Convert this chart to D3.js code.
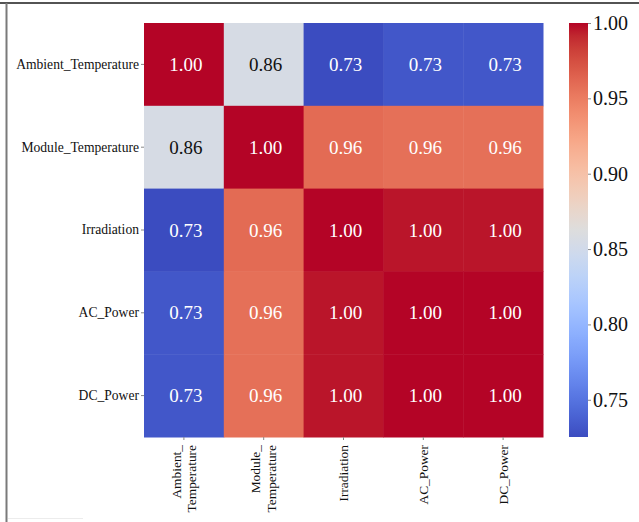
<!DOCTYPE html>
<html>
<head>
<meta charset="utf-8">
<script src="https://cdn.jsdelivr.net/npm/d3@7"></script>
<style>
  html, body { margin: 0; padding: 0; background: #fff; }
  svg { display: block; }
  text { font-family: "Liberation Serif", "Times New Roman", serif; }
</style>
</head>
<body>
<svg id="chart" width="639" height="522"></svg>
<script>
// Variables of the correlation matrix (row order = column order)
const variables = ["Ambient_Temperature", "Module_Temperature", "Irradiation", "AC_Power", "DC_Power"];
// Bottom axis labels, wrapped after the underscore
const xLabelLines = [["Ambient_", "Temperature"], ["Module_", "Temperature"], ["Irradiation"], ["AC_Power"], ["DC_Power"]];

// Pearson correlation coefficients, one row per variable
const rowAmbient = [1.000, 0.8555, 0.7253, 0.732, 0.732];
const rowModule  = [0.8555, 1.000, 0.960, 0.957, 0.957];
const rowIrr     = [0.7253, 0.960, 1.000, 0.996, 0.996];
const rowAC      = [0.732, 0.957, 0.996, 1.000, 1.000];
const rowDC      = [0.732, 0.957, 0.996, 1.000, 1.000];
const matrix = [rowAmbient, rowModule, rowIrr, rowAC, rowDC];

// Colour bar extent and ticks
const colorMin = 0.7253, colorMax = 1.0;
const colorTicks = [0.75, 0.80, 0.85, 0.90, 0.95, 1.00];

// Diverging "coolwarm" colour map (Moreland), 33 control points
const coolwarmStops = [
  [59,76,192],[68,90,204],[77,104,215],[87,117,225],[98,130,234],[108,142,241],
  [119,154,247],[130,165,251],[141,176,254],[152,185,255],[163,194,255],[174,201,253],
  [184,208,249],[194,213,244],[204,217,238],[213,219,230],[221,221,221],[229,216,209],
  [236,211,197],[241,204,184],[245,196,172],[247,187,160],[247,177,148],[247,166,135],
  [244,154,123],[241,141,111],[236,127,99],[229,112,88],[222,96,77],[213,80,66],
  [203,62,56],[192,40,47],[180,4,38]
].map(c => d3.rgb(c[0], c[1], c[2]).formatHex());
const coolwarm = d3.piecewise(d3.interpolateRgb, coolwarmStops);
const color = d3.scaleSequential(coolwarm).domain([colorMin, colorMax]);

const svg = d3.select("#chart");

// Figure frame
svg.append("line").attr("x1", 0).attr("x2", 639).attr("y1", 3).attr("y2", 3)
  .attr("stroke", "#1a1a1a").attr("stroke-width", 1.5);
svg.append("line").attr("x1", 6.5).attr("x2", 6.5).attr("y1", 3).attr("y2", 522)
  .attr("stroke", "#7a7a7a").attr("stroke-width", 2);
svg.append("line").attr("x1", 8).attr("x2", 83).attr("y1", 518.5).attr("y2", 518.5)
  .attr("stroke", "#ececec").attr("stroke-width", 1);

// Heatmap area
const hm = { left: 144, right: 543, top: 23, bottom: 437 };
const x = d3.scaleBand().domain(variables).range([hm.left, hm.right]);
const y = d3.scaleBand().domain(variables).range([hm.top, hm.bottom]);

const cells = [];
matrix.forEach((row, i) => row.forEach((v, j) => cells.push({ r: variables[i], c: variables[j], v })));

svg.append("g").selectAll("rect").data(cells).join("rect")
  .attr("x", d => x(d.c))
  .attr("y", d => y(d.r))
  .attr("width", x.bandwidth() + 0.5)
  .attr("height", y.bandwidth() + 0.5)
  .attr("fill", d => color(d.v));

// Cell annotations, dark text on light cells
function textColour(v) {
  const c = d3.rgb(color(v));
  const lum = [c.r, c.g, c.b].map(u => {
    u /= 255;
    return u <= 0.03928 ? u / 12.92 : Math.pow((u + 0.055) / 1.055, 2.4);
  });
  const L = 0.2126 * lum[0] + 0.7152 * lum[1] + 0.0722 * lum[2];
  return L > 0.408 ? "#111" : "#fff";
}
svg.append("g").selectAll("text").data(cells).join("text")
  .attr("x", d => x(d.c) + x.bandwidth() / 2 + 2)
  .attr("y", d => y(d.r) + y.bandwidth() / 2)
  .attr("text-anchor", "middle")
  .attr("dominant-baseline", "central")
  .attr("font-size", 19)
  .attr("fill", d => textColour(d.v))
  .text(d => d3.format(".2f")(d.v));

// Left axis
const yAxis = svg.append("g").attr("transform", `translate(${hm.left},0)`)
  .call(d3.axisLeft(y).tickSize(3).tickPadding(2));
yAxis.select(".domain").remove();
yAxis.selectAll(".tick line").attr("stroke", "#888");
yAxis.selectAll(".tick text").attr("font-size", 13.6).attr("fill", "#111")
  .attr("font-family", "Liberation Serif, serif");

// Bottom axis with rotated, wrapped labels
const xAxis = svg.append("g").attr("transform", `translate(0,${hm.bottom})`)
  .call(d3.axisBottom(x).tickSize(3));
xAxis.select(".domain").remove();
xAxis.selectAll(".tick line").attr("stroke", "#888");
xAxis.selectAll(".tick text").remove();
xAxis.selectAll(".tick").each(function(d, i) {
  const lines = xLabelLines[i];
  const t = d3.select(this).append("text")
    .attr("transform", "rotate(-90)")
    .attr("text-anchor", "end")
    .attr("font-size", 13.4)
    .attr("fill", "#111")
    .attr("font-family", "Liberation Serif, serif");
  const spacing = 15.5;
  lines.forEach((ln, k) => {
    t.append("tspan")
      .attr("x", -8)
      .attr("y", (k - (lines.length - 1) / 2) * spacing)
      .attr("dominant-baseline", "central")
      .text(ln);
  });
});

// Colour bar
const cb = { left: 569, width: 19 };
const cbScale = d3.scaleLinear().domain([colorMin, colorMax]).range([hm.bottom, hm.top]);
const grad = svg.append("defs").append("linearGradient")
  .attr("id", "cbGrad").attr("x1", 0).attr("x2", 0).attr("y1", 1).attr("y2", 0);
d3.range(0, 1.0001, 1 / 64).forEach(t => {
  grad.append("stop").attr("offset", t)
    .attr("stop-color", color(colorMin + t * (colorMax - colorMin)));
});
svg.append("rect")
  .attr("x", cb.left).attr("y", hm.top)
  .attr("width", cb.width).attr("height", hm.bottom - hm.top)
  .attr("fill", "url(#cbGrad)");

const cbAxis = svg.append("g").attr("transform", `translate(${cb.left + cb.width},0)`)
  .call(d3.axisRight(cbScale).tickValues(colorTicks).tickFormat(d3.format(".2f"))
    .tickSize(3).tickPadding(2));
cbAxis.select(".domain").remove();
cbAxis.selectAll(".tick line").attr("stroke", "#888");
cbAxis.selectAll(".tick text").attr("font-size", 20).attr("fill", "#111")
  .attr("font-family", "Liberation Serif, serif");
</script>
</body>
</html>
